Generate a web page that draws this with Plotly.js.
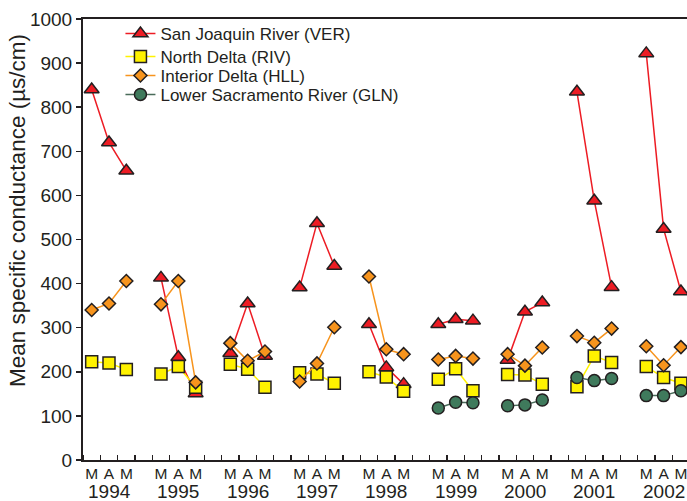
<!DOCTYPE html>
<html>
<head>
<meta charset="utf-8">
<script src="https://cdn.plot.ly/plotly-3.0.1.min.js"></script>
<style>html,body{margin:0;padding:0;background:#fff;}#chart{width:687px;height:501px;}</style>
</head>
<body>
<div id="chart"></div>
<script>
// ---- data ----
var years = ["1994","1995","1996","1997","1998","1999","2000","2001","2002"];
var months = ["M","A","M"];
var seriesNames = ["San Joaquin River (VER)","North Delta (RIV)","Interior Delta (HLL)","Lower Sacramento River (GLN)"];
// values per year: March, April, May
var VER = [840,720,656, 413,233,151, 242,355,236, 391,537,440, 308,210,172, 308,319,316, 227,336,357, 835,588,392, 922,524,382];
var RIV = [223,220,205, 195,212,165, 217,206,165, 198,195,174, 200,188,156, 183,207,157, 194,193,172, 166,236,221, 212,187,174];
var HLL = [340,355,406, 353,406,176, 265,225,246, 178,219,301, 416,251,240, 228,236,230, 240,214,255, 281,266,298, 258,215,256];
var GLN = [null,null,null, null,null,null, null,null,null, null,null,null, null,null,null, 118,131,130, 123,125,136, 187,180,185, 146,146,157];

var ink = "#231f20";
var FONT = "Liberation Sans, Arial, sans-serif";
var styles = [
  {fill:"#ed1c24", line:"#ed1c24", symbol:"triangle-up", size:13},
  {fill:"#fff200", line:"#fff200", symbol:"square", size:12},
  {fill:"#f7941d", line:"#f7941d", symbol:"diamond", size:10},
  {fill:"#3f7a5c", line:"#4a6b5a", symbol:"circle", size:12}
];
var allSeries = [VER, RIV, HLL, GLN];

function build(vals){
  var x = [], y = [];
  for (var yi = 0; yi < years.length; yi++){
    for (var m = 0; m < 3; m++){
      x.push(yi*4 + m + 0.5); y.push(vals[yi*3+m]);
    }
    x.push(yi*4 + 3.5); y.push(null);
  }
  return {x:x, y:y};
}

var legendIds = ["legend","legend2","legend3","legend4"];
var traces = allSeries.map(function(s, i){
  var d = build(s);
  return {
    type:"scatter", mode:"lines+markers", name: seriesNames[i],
    x:d.x, y:d.y, connectgaps:false, cliponaxis:false,
    legend: legendIds[i],
    line:{color:styles[i].line, width:1.5},
    marker:{symbol:styles[i].symbol, size:styles[i].size, color:styles[i].fill, line:{color:ink, width:1.5}}
  };
});

var tickvals = [], ticktext = [];
years.forEach(function(yr, yi){ months.forEach(function(m, mi){ tickvals.push(yi*4+mi+0.5); ticktext.push(m); }); });

var annotations = years.map(function(yr, yi){
  return {text: yr, x: yi*4+1.5, xref:"x", y:(460-491)/441, yref:"paper", showarrow:false,
          xanchor:"center", yanchor:"middle", font:{family:FONT, size:19, color:ink}};
});
annotations.push({text:"Mean specific conductance (µs/cm)", textangle:-90, x:(17-83)/604, xref:"paper", xanchor:"center",
  y:(460-211)/441, yref:"paper", yanchor:"middle", showarrow:false, font:{family:FONT, size:22.5, color:ink}});

var rowY = [0.966, 0.914, 0.871, 0.828];
var layout = {
  width:687, height:501,
  margin:{l:83, r:0, t:19, b:41},
  paper_bgcolor:"#fff", plot_bgcolor:"#fff",
  font:{family:FONT, color:ink},
  showlegend:true,
  xaxis:{range:[0,34.85], showgrid:false, zeroline:false, showline:true, mirror:true, linecolor:ink, linewidth:2,
    tickmode:"array", tickvals:tickvals, ticktext:ticktext, ticks:"", tickfont:{size:15.5, color:ink},
    ticklabeloverflow:"allow", ticklabelstandoff:-2,
    minor:{tickmode:"linear", tick0:0, dtick:1, ticks:"inside", ticklen:5, tickwidth:1.5, tickcolor:ink, showgrid:false}},
  yaxis:{range:[0,1000], showgrid:false, zeroline:false, showline:true, mirror:true, linecolor:ink, linewidth:2,
    tickmode:"linear", tick0:0, dtick:100, ticks:"outside", ticklen:5, tickwidth:1.5, tickcolor:ink,
    tickfont:{size:19, color:ink}},
  annotations: annotations
};
legendIds.forEach(function(id, i){
  layout[id] = {x:0.062, xanchor:"left", y:rowY[i], yanchor:"middle", bgcolor:"rgba(0,0,0,0)", borderwidth:0,
    font:{size:17, color:ink}};
});

Plotly.newPlot("chart", traces, layout, {displayModeBar:false, staticPlot:true});
</script>
</body>
</html>
